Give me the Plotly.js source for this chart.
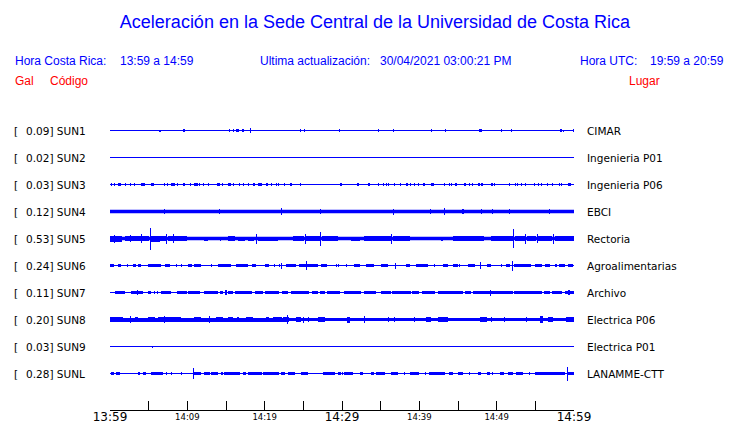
<!DOCTYPE html>
<html><head><meta charset="utf-8">
<script src="https://cdn.plot.ly/plotly-3.0.1.min.js"></script>
<style>body{margin:0;background:#fff}#chart{width:740px;height:423px}</style>
</head><body><div id="chart"></div>
<script>
// ---------- DATA ----------
const stations = ['SUN1','SUN2','SUN3','SUN4','SUN5','SUN6','SUN7','SUN8','SUN9','SUNL'];
const galValues = [0.09,0.02,0.03,0.12,0.53,0.24,0.11,0.20,0.03,0.28];
const places = ['CIMAR','Ingenieria P01','Ingenieria P06','EBCI','Rectoria','Agroalimentarias','Archivo','Electrica P06','Electrica P01','LANAMME-CTT'];
// continuous noise band (full thickness, px) per station
const noiseBand = [1,1,1,3.6,3.4,1,1,3,1,1];
// minutes after 13:59
const tickMinutes = [0,5,10,15,20,25,30,35,40,45,50,55,60];
const majorTickMinutes = [0,30,60];
const majorTickLabels = ['13:59','14:29','14:59'];
const minorTickMinutes = [10,20,40,50];
const minorTickLabels = ['14:09','14:19','14:39','14:49'];
// bursts: [start minute, end minute, half amplitude px]
const burstsSUN1 = [[6.47,6.47,1],[9.57,9.57,1.3],[15.4,15.4,1.3],[16.0,16.0,1.3],[16.3,16.3,1.3],[16.55,16.55,1.3],[17.2,17.2,1.3],[18.2,18.2,2.7],[24.6,24.6,1.3],[25.2,25.2,1.3],[29.7,29.7,1.3],[34.7,34.7,1.3],[36.7,36.7,1.3],[41.6,41.6,1.3],[43.4,43.4,1.3],[47.7,48.1,1.3],[50.6,50.6,1.3],[51.9,51.9,1.3],[58.2,58.5,1.3],[58.7,58.7,1],[59.9,59.9,1.3]];
const burstsSUN2 = [];
const burstsSUN3 = [[0.17,0.17,1.3],[0.6,0.6,1.3],[1.0,1.45,1.5],[2.0,2.0,1.3],[2.67,2.67,1.3],[3.2,3.2,1.3],[4.0,4.5,1.5],[5.25,5.75,1.5],[7.0,7.0,1.3],[7.4,7.4,1.3],[7.85,8.35,1.5],[8.7,8.7,1.3],[9.4,9.75,1.5],[10.4,10.4,1.3],[10.85,11.35,1.5],[11.6,11.6,1.3],[12.1,12.1,1.3],[12.7,12.7,1.3],[13.8,14.25,1.5],[14.5,14.5,1.3],[15.2,15.65,1.5],[16.0,16.0,1.3],[16.8,16.8,1.3],[17.3,17.3,1.3],[17.9,17.9,1.3],[18.45,18.8,1.5],[19.2,19.65,1.5],[20.3,20.3,1.3],[20.9,20.9,1.3],[21.5,21.5,1.3],[21.8,21.8,1.3],[22.6,22.6,1.3],[23.4,23.4,1.3],[24.6,24.6,1.3],[29.75,30.05,1.5],[31.9,32.25,1.5],[33.4,33.65,1.5],[34.7,34.7,1.3],[35.4,35.4,1.3],[35.7,35.7,1.3],[36.0,36.0,1.3],[36.8,36.8,1.3],[37.6,37.6,1.3],[38.4,38.4,1.3],[38.9,38.9,1.3],[39.4,39.4,1.3],[39.9,39.9,1.3],[40.6,40.6,1.3],[41.5,41.95,1.5],[43.2,43.2,1.3],[43.9,43.9,1.3],[44.1,44.1,1.3],[44.6,44.85,1.5],[45.9,45.9,1.3],[46.5,46.5,1.3],[46.9,46.9,1.3],[47.55,47.9,1.5],[48.1,48.1,1.3],[49.4,49.4,1.3],[49.7,49.7,1.3],[51.6,51.6,1.3],[52.4,52.4,1.3],[52.7,52.7,1.3],[53.2,53.2,1.3],[53.7,53.7,1.3],[54.9,54.9,1.3],[55.4,55.4,1.3],[55.8,55.8,1.3],[56.6,56.6,1.3],[57.2,57.2,1.3],[58.1,58.1,1.3],[58.4,58.4,1.3],[59.25,59.55,1.5]];
const burstsSUN4 = [[7.0,7.0,2.7],[14.1,14.1,2.7],[22.2,22.2,3.2],[27.2,27.2,2.3],[36.7,36.7,3],[41.5,41.5,2.3],[43.3,43.3,3.7],[45.65,45.65,2.3],[48.05,48.05,2.5],[49.5,49.5,2.3],[51.6,51.6,2.3],[56.85,56.85,2.7]];
const burstsSUN5 = [[0,1.5,3.0],[0.6,0.6,4],[1.9,4.0,2.3],[2.6,2.6,3.5],[4.05,4.15,4.5],[4.2,5.05,2.6],[5.15,5.25,11],[5.3,6.5,3.0],[6.5,7.2,2.3],[7.3,7.4,5],[7.5,8.1,2.6],[8.15,8.25,4.5],[8.3,9.9,2.3],[12.2,12.7,2],[14.2,14.3,2],[15.3,16.1,2.8],[16.6,17.4,2],[17.8,18.6,2],[18.9,19.0,5],[19.2,21.7,2],[23.7,25.1,2.6],[25.2,25.3,5],[25.4,27.1,2.6],[27.2,27.3,7],[27.4,29.5,2.4],[31.2,32.3,2],[32.9,33.8,2.2],[33.8,36.3,2.6],[36.4,36.5,5],[36.6,38.75,2.8],[42.8,43.1,2],[44.4,46,2.2],[46,48.4,2.6],[49.3,52.1,2.6],[52.15,52.25,9.5],[52.4,53.6,2.6],[53.7,53.8,5],[53.9,55.1,2.4],[55.2,55.3,4.5],[55.4,57.2,2.6],[57.3,57.4,5],[57.5,60,2.6]];
const burstsSUN6 = [[0,0.52,1.5],[1.0,1.47,1.5],[2.3,2.3,1.5],[3.0,3.3,1.5],[3.6,4.05,1.5],[4.9,6.6,1.8],[7.1,7.7,1.5],[8.6,8.6,1.5],[9.3,9.3,1.5],[10.1,10.6,1.5],[10.9,11.8,1.5],[13.1,13.1,1.5],[14.0,15.7,1.7],[16.3,17.8,1.5],[18.3,18.9,1.5],[20.0,20.6,1.5],[21.3,21.3,1.5],[21.9,21.9,1.5],[22.2,22.2,3],[22.8,24.1,1.5],[24.5,26.9,1.8],[25.4,25.4,4.7],[27.3,28.0,1.5],[29.3,29.3,1.5],[29.5,29.5,1.5],[30.6,30.6,1.5],[31.6,32.3,1.5],[33.1,34.2,1.5],[35.1,35.9,1.7],[36.9,36.9,3],[38.3,38.75,1.5],[39.6,41.1,1.5],[42.0,42.0,1.5],[43.1,43.7,1.5],[44.4,45.0,1.5],[45.2,45.2,1.5],[46.3,47.2,1.5],[47.9,47.9,3.5],[48.7,49.3,1.5],[50.6,50.6,1.5],[51.25,51.7,1.5],[52.0,52.0,5],[52.3,54.5,1.8],[54.9,55.8,1.5],[56.2,56.85,1.5],[57.5,57.8,1.5],[58.1,58.8,1.5],[59.2,59.9,1.5]];
const burstsSUN7 = [[0.6,1.9,1.7],[2.75,4.25,1.7],[3.5,3.5,2.7],[4.9,5.25,1.7],[5.7,5.7,1.7],[6.2,6.2,1.7],[6.6,7.9,1.7],[8.6,9.9,1.7],[10.1,11.6,1.7],[12.2,14.0,1.7],[14.2,14.6,1.7],[15.0,15.0,2.7],[15.3,15.9,1.7],[16.1,18.3,1.7],[18.7,19.8,1.7],[20.1,21.9,1.7],[22.2,23.0,1.7],[23.4,25.7,1.7],[26.1,26.9,1.7],[27.2,27.8,1.7],[28.1,29.7,1.7],[30.3,32.5,1.7],[32.9,34.4,1.7],[35.0,36.4,1.7],[36.5,38.9,1.7],[39.05,40.0,1.7],[40.3,42.0,1.7],[42.4,45.6,1.7],[45.9,46.7,1.7],[46.9,49.1,1.7],[49.2,49.2,3],[49.3,52.1,1.7],[52.3,55.8,1.7],[56.1,56.85,1.7],[57.1,58.4,1.7],[58.8,60,1.7],[59.35,59.35,2.7]];
const burstsSUN8 = [[0,23.2,2.0],[0,1.7,2.5],[2.6,2.6,3.5],[3.2,3.6,2.2],[4.9,5.8,2.2],[6.2,9.2,2.5],[7.1,7.1,3.5],[10.9,11.8,2.2],[12.9,12.9,3.5],[13.75,14.6,2.5],[15.3,15.9,2.3],[16.55,16.55,2.2],[17.6,18.5,2.3],[20.2,20.6,2.2],[21.1,22.2,2.3],[22.4,23.2,2.7],[23.0,23.0,4.5],[24.1,24.7,2.3],[25.0,25.0,3],[25.7,25.7,2.2],[26.9,27.8,2.3],[30.7,31.0,3],[32.85,32.85,3.3],[36.0,36.0,2.2],[36.8,36.8,2.2],[39.4,39.4,2.2],[40.9,41.55,2.2],[42.4,43.7,2.2],[47.8,48.7,2.7],[49.3,49.3,2.2],[51.0,51.0,2.2],[53.8,53.8,2.3],[55.55,56.0,3.3],[56.6,57.3,2.2],[59.0,60,2.7]];
const burstsSUN9 = [[5.55,5.55,1]];
const burstsSUNL = [[0.17,0.5,1.5],[0.8,1.25,1.5],[3.6,3.85,1.5],[4.3,4.7,1.5],[5.3,6.85,1.5],[7.3,7.3,1.5],[7.9,7.9,1.5],[9.3,9.3,1.5],[10.8,10.8,5.3],[10.9,11.8,1.5],[12.2,12.9,1.5],[13.1,14.0,1.5],[14.4,14.6,1.5],[14.8,16.8,1.5],[17.2,17.6,1.5],[17.85,19.6,1.5],[19.8,21.9,1.5],[22.15,22.6,1.5],[23.0,23.9,1.5],[24.7,25.6,1.5],[27.5,29.05,1.5],[29.5,29.9,1.5],[30.1,30.1,1.5],[30.3,31.4,1.5],[32.3,32.7,1.5],[33.8,34.2,1.5],[34.4,35.5,1.5],[36.4,37.2,1.5],[38.1,38.1,1.5],[38.75,40.0,1.5],[40.7,40.9,1.5],[41.3,43.3,1.5],[43.9,44.4,1.5],[45.0,45.6,1.5],[46.5,46.5,1.5],[47.6,48.0,1.5],[48.7,49.1,1.5],[49.5,49.5,1.5],[50.4,51.0,1.5],[51.5,52.1,1.5],[52.5,53.4,1.5],[54.3,54.3,1.5],[54.9,58.8,1.3],[59.1,59.1,7],[59.2,60,1.5]];
const burstsByStation = [burstsSUN1,burstsSUN2,burstsSUN3,burstsSUN4,burstsSUN5,burstsSUN6,burstsSUN7,burstsSUN8,burstsSUN9,burstsSUNL];

const titleText = 'Aceleración en la Sede Central de la Universidad de Costa Rica';
const horaCR = '13:59 a 14:59';
const horaUTC = '19:59 a 20:59';
const lastUpdate = '30/04/2021 03:00:21 PM';

// ---------- LAYOUT GEOMETRY ----------
const W = 740, H = 423;
const L = 110, R = 574, T = 115, B = 410;
const plotH = B - T;
const rowStart = 15.5, rowStep = 27;
const BLUE = '#0000ff';
const px = x => (x - L) / (R - L);
const py = y => (B - y) / (B - T);

const traces = [];
stations.forEach((s, i) => {
  const c = rowStart + rowStep * i;
  traces.push({type:'scatter', mode:'lines', x:[0,60], y:[c,c], line:{color:BLUE, width:noiseBand[i]}, hoverinfo:'skip', showlegend:false});
  const b = burstsByStation[i];
  if (b.length) {
    traces.push({type:'bar', x:b.map(d => (d[0]+d[1])/2), width:b.map(d => Math.max(d[1]-d[0], 0.14)),
      base:b.map(d => c - d[2]), y:b.map(d => 2*d[2]),
      marker:{color:BLUE, line:{width:0}}, hoverinfo:'skip', showlegend:false});
  }
});
// dummy for overlay axis
traces.push({type:'scatter', x:[0,60], y:[null,null], xaxis:'x2', mode:'lines', showlegend:false, hoverinfo:'skip'});

const ann = [];
const hdr = (text, x, y, color, size, fam) => ann.push({text, x:px(x), y:py(y), xref:'paper', yref:'paper', xanchor:'left', yanchor:'middle', showarrow:false, borderpad:0, borderwidth:0, font:{family:fam||'Liberation Sans, Arial, sans-serif', size:size||12, color}});
hdr('Hora Costa Rica:', 15, 61, BLUE);
hdr(horaCR, 120, 61, BLUE);
hdr('Ultima actualización:', 260, 61, BLUE);
hdr(lastUpdate, 380, 61, BLUE);
hdr('Hora UTC:', 580, 61, BLUE);
hdr(horaUTC, 650, 61, BLUE);
hdr('Gal', 15, 81, 'red');
hdr('Código', 50, 81, 'red');
hdr('Lugar', 629, 81, 'red');
stations.forEach((s, i) => {
  const yc = T + rowStart + rowStep * i;
  hdr('[', 14, yc, '#000', 10.5, 'DejaVu Sans, sans-serif');
  hdr(galValues[i].toFixed(2) + '] ' + s, 26, yc, '#000', 10.5, 'DejaVu Sans, sans-serif');
  hdr(places[i], 587, yc, '#000', 10.5, 'DejaVu Sans, sans-serif');
});

const layout = {
  width:W, height:H, margin:{l:L, r:W-R, t:T, b:H-B, pad:0},
  paper_bgcolor:'#fff', plot_bgcolor:'#fff',
  barmode:'overlay', bargap:0,
  title:{text:titleText, font:{family:'Liberation Sans, Arial, sans-serif', size:18, color:BLUE}, xref:'paper', x:px(375), xanchor:'center', yref:'container', y:1-22/H, yanchor:'middle'},
  xaxis:{range:[0,60], showgrid:false, zeroline:false, showline:true, linecolor:'#000', linewidth:1,
    tickmode:'array', tickvals:tickMinutes, ticktext:tickMinutes.map(m => { const k = majorTickMinutes.indexOf(m); return k >= 0 ? majorTickLabels[k] : ''; }),
    ticks:'inside', ticklen:9, tickwidth:1, tickcolor:'#000', ticklabelstandoff:-4, tickfont:{family:'DejaVu Sans, sans-serif', size:12, color:'#000'}, fixedrange:true},
  xaxis2:{range:[0,60], overlaying:'x', side:'bottom', anchor:'y', showgrid:false, zeroline:false, showline:false,
    tickmode:'array', tickvals:minorTickMinutes, ticktext:minorTickLabels, ticks:'', tickfont:{family:'DejaVu Sans, sans-serif', size:8.5, color:'#000'}},
  yaxis:{range:[plotH,0], visible:false, showgrid:false, zeroline:false, fixedrange:true},
  annotations:ann,
  showlegend:false
};
Plotly.newPlot('chart', traces, layout, {staticPlot:true, displayModeBar:false});
</script>
</body></html>
